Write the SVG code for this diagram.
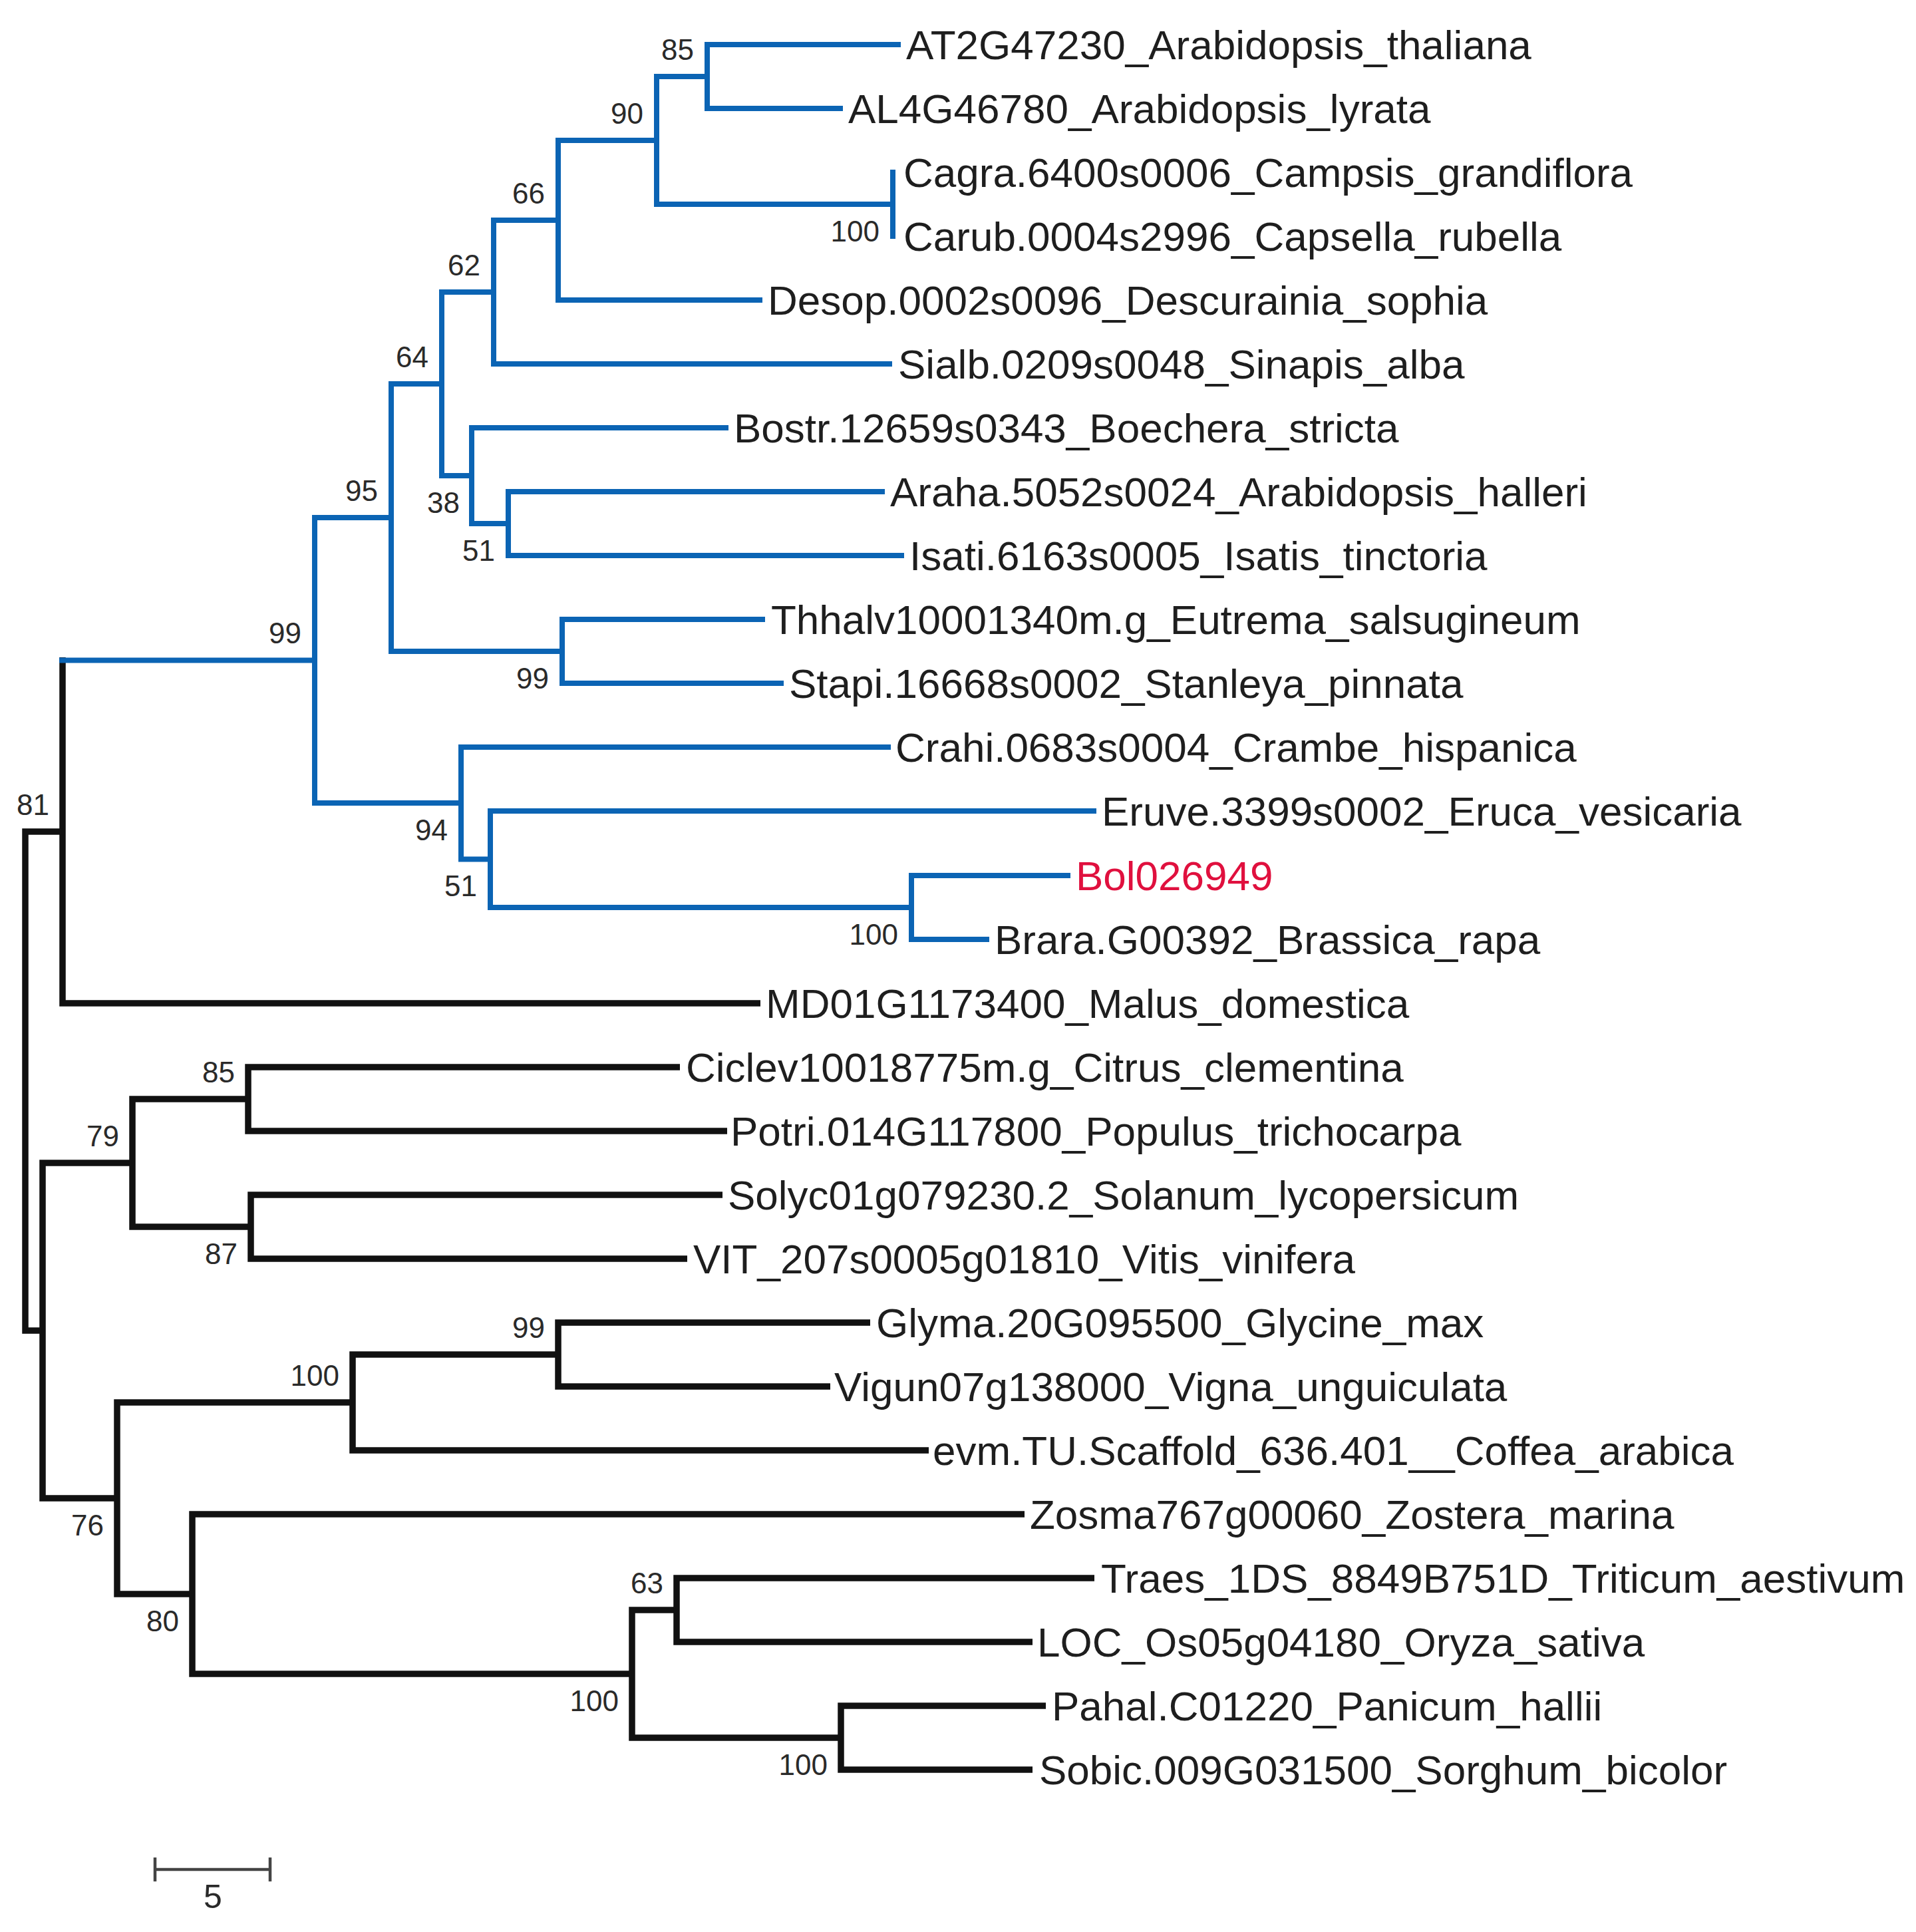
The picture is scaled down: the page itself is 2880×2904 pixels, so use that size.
<svg xmlns="http://www.w3.org/2000/svg" width="2880" height="2904" viewBox="0 0 2880 2904">
<style>
.b{fill:none;stroke:#0b64b4;stroke-width:8;stroke-linejoin:miter;stroke-linecap:butt}
.k{fill:none;stroke:#111;stroke-width:9.5;stroke-linejoin:miter;stroke-linecap:butt}
.leaf{font-family:"Liberation Sans",Arial,sans-serif;font-size:62px;fill:#1e1e1e}
.red{fill:#e0103e}
.bs{font-family:"Liberation Sans",Arial,sans-serif;font-size:44px;fill:#2a2a2a;text-anchor:end}
.sc{fill:none;stroke:#444;stroke-width:4.5}
</style>
<rect width="2880" height="2904" fill="#fff"/>
<g id="connectors">
<path class="k" d="M94,988 V1508 H1143"/>
<path class="k" d="M94,1250 H38 V2000 H64"/>
<path class="k" d="M199,1748 H64 V2252 H176"/>
<path class="k" d="M373,1652 H199 V1844 H377"/>
<path class="k" d="M1022,1604 H373 V1700 H1093"/>
<path class="k" d="M1086,1796 H377 V1892 H1033"/>
<path class="k" d="M530,2108 H176 V2396 H289"/>
<path class="k" d="M839,2036 H530 V2180 H1396"/>
<path class="k" d="M1308,1988 H839 V2084 H1248"/>
<path class="k" d="M1540,2276 H289 V2516 H950"/>
<path class="k" d="M1017,2420 H950 V2612 H1264"/>
<path class="k" d="M1645,2372 H1017 V2468 H1552"/>
<path class="k" d="M1572,2564 H1264 V2660 H1552"/>
<path class="b" d="M89,992.5 H473"/>
<path class="b" d="M588,778 H473 V1207 H693"/>
<path class="b" d="M664,577 H588 V979 H845"/>
<path class="b" d="M742,439 H664 V715 H709"/>
<path class="b" d="M839,331 H742 V547 H1341"/>
<path class="b" d="M987,211 H839 V451 H1146"/>
<path class="b" d="M1063,115 H987 V307 H1342"/>
<path class="b" d="M1354,67 H1063 V163 H1267"/>
<path class="b" d="M1342,255 V359"/>
<path class="b" d="M1095,643 H709 V787 H764"/>
<path class="b" d="M1330,739 H764 V835 H1359"/>
<path class="b" d="M1150,931 H845 V1027 H1178"/>
<path class="b" d="M1339,1123 H693 V1291.5 H737"/>
<path class="b" d="M1648,1219 H737 V1364 H1370"/>
<path class="b" d="M1609,1316 H1370 V1412 H1487"/>
</g>
<g id="leaf-AT2G47230"><text class="leaf" x="1362" y="89">AT2G47230_Arabidopsis_thaliana</text></g>
<g id="leaf-AL4G46780"><text class="leaf" x="1275" y="185">AL4G46780_Arabidopsis_lyrata</text></g>
<g id="leaf-Cagra"><text class="leaf" x="1358" y="281">Cagra.6400s0006_Campsis_grandiflora</text></g>
<g id="leaf-Carub"><text class="leaf" x="1358" y="377">Carub.0004s2996_Capsella_rubella</text></g>
<g id="leaf-Desop"><text class="leaf" x="1154" y="473">Desop.0002s0096_Descurainia_sophia</text></g>
<g id="leaf-Sialb"><text class="leaf" x="1350" y="569">Sialb.0209s0048_Sinapis_alba</text></g>
<g id="leaf-Bostr"><text class="leaf" x="1103" y="665">Bostr.12659s0343_Boechera_stricta</text></g>
<g id="leaf-Araha"><text class="leaf" x="1338" y="761">Araha.5052s0024_Arabidopsis_halleri</text></g>
<g id="leaf-Isati"><text class="leaf" x="1367" y="857">Isati.6163s0005_Isatis_tinctoria</text></g>
<g id="leaf-Thhalv"><text class="leaf" x="1159" y="953">Thhalv10001340m.g_Eutrema_salsugineum</text></g>
<g id="leaf-Stapi"><text class="leaf" x="1186" y="1049">Stapi.16668s0002_Stanleya_pinnata</text></g>
<g id="leaf-Crahi"><text class="leaf" x="1346" y="1145">Crahi.0683s0004_Crambe_hispanica</text></g>
<g id="leaf-Eruve"><text class="leaf" x="1656" y="1241">Eruve.3399s0002_Eruca_vesicaria</text></g>
<g id="leaf-Bol026949"><text class="leaf red" x="1617" y="1338">Bol026949</text></g>
<g id="leaf-Brara"><text class="leaf" x="1495" y="1434">Brara.G00392_Brassica_rapa</text></g>
<g id="leaf-MD01"><text class="leaf" x="1151" y="1530">MD01G1173400_Malus_domestica</text></g>
<g id="leaf-Ciclev"><text class="leaf" x="1031" y="1626">Ciclev10018775m.g_Citrus_clementina</text></g>
<g id="leaf-Potri"><text class="leaf" x="1098" y="1722">Potri.014G117800_Populus_trichocarpa</text></g>
<g id="leaf-Solyc"><text class="leaf" x="1094" y="1818">Solyc01g079230.2_Solanum_lycopersicum</text></g>
<g id="leaf-VIT"><text class="leaf" x="1042" y="1914">VIT_207s0005g01810_Vitis_vinifera</text></g>
<g id="leaf-Glyma"><text class="leaf" x="1317" y="2010">Glyma.20G095500_Glycine_max</text></g>
<g id="leaf-Vigun"><text class="leaf" x="1254" y="2106">Vigun07g138000_Vigna_unguiculata</text></g>
<g id="leaf-evm"><text class="leaf" x="1402" y="2202">evm.TU.Scaffold_636.401__Coffea_arabica</text></g>
<g id="leaf-Zosma"><text class="leaf" x="1548" y="2298">Zosma767g00060_Zostera_marina</text></g>
<g id="leaf-Traes"><text class="leaf" x="1655" y="2394">Traes_1DS_8849B751D_Triticum_aestivum</text></g>
<g id="leaf-LOC"><text class="leaf" x="1559" y="2490">LOC_Os05g04180_Oryza_sativa</text></g>
<g id="leaf-Pahal"><text class="leaf" x="1581" y="2586">Pahal.C01220_Panicum_hallii</text></g>
<g id="leaf-Sobic"><text class="leaf" x="1562" y="2682">Sobic.009G031500_Sorghum_bicolor</text></g>
<g id="node-85a"><text class="bs" x="1043" y="90">85</text></g>
<g id="node-90"><text class="bs" x="967" y="186">90</text></g>
<g id="node-66"><text class="bs" x="819" y="306">66</text></g>
<g id="node-62"><text class="bs" x="722" y="414">62</text></g>
<g id="node-64"><text class="bs" x="644" y="552">64</text></g>
<g id="node-95"><text class="bs" x="568" y="753">95</text></g>
<g id="node-99root"><text class="bs" x="453" y="967">99</text></g>
<g id="node-81"><text class="bs" x="74" y="1225">81</text></g>
<g id="node-85b"><text class="bs" x="353" y="1627">85</text></g>
<g id="node-79"><text class="bs" x="179" y="1723">79</text></g>
<g id="node-99c"><text class="bs" x="819" y="2011">99</text></g>
<g id="node-100c"><text class="bs" x="510" y="2083">100</text></g>
<g id="node-63"><text class="bs" x="997" y="2395">63</text></g>
<g id="node-100a"><text class="bs" x="1322" y="363">100</text></g>
<g id="node-38"><text class="bs" x="691" y="771">38</text></g>
<g id="node-51a"><text class="bs" x="744" y="843">51</text></g>
<g id="node-99a"><text class="bs" x="825" y="1035">99</text></g>
<g id="node-94"><text class="bs" x="673" y="1263">94</text></g>
<g id="node-51b"><text class="bs" x="717" y="1347">51</text></g>
<g id="node-100b"><text class="bs" x="1350" y="1420">100</text></g>
<g id="node-87"><text class="bs" x="357" y="1900">87</text></g>
<g id="node-76"><text class="bs" x="156" y="2308">76</text></g>
<g id="node-80"><text class="bs" x="269" y="2452">80</text></g>
<g id="node-100e"><text class="bs" x="930" y="2572">100</text></g>
<g id="node-100d"><text class="bs" x="1244" y="2668">100</text></g>
<g id="scale-bar">
<path class="sc" d="M233,2810 H406 M233,2792 V2828 M406,2792 V2828"/>
<text x="320" y="2868" font-family="Liberation Sans, Arial, sans-serif" font-size="50" fill="#2a2a2a" text-anchor="middle">5</text>
</g>
</svg>
